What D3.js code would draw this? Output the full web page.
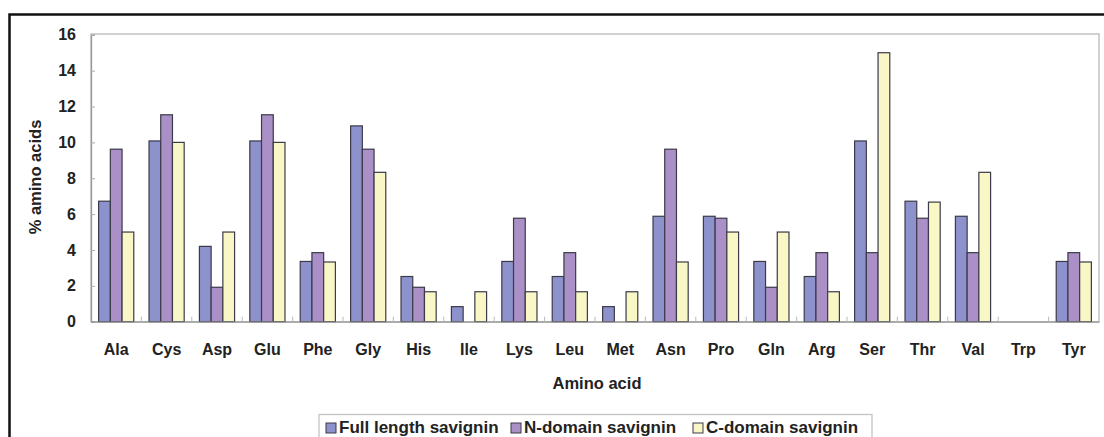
<!DOCTYPE html>
<html>
<head>
<meta charset="utf-8">
<script src="https://cdn.jsdelivr.net/npm/d3@7"></script>
<style>
  html, body { margin: 0; padding: 0; background: #fff; }
  svg { display: block; font-family: "Liberation Sans", Arial, sans-serif; }
</style>
</head>
<body>
<svg id="chart" width="1104" height="437"></svg>
<script>
// Amino acid composition (%) of savignin and its two domains
const aminoAcids = ["Ala","Cys","Asp","Glu","Phe","Gly","His","Ile","Lys","Leu",
                    "Met","Asn","Pro","Gln","Arg","Ser","Thr","Val","Trp","Tyr"];
const fullLength = [6.72,10.08,4.20,10.08,3.36,10.92,2.52,0.84,3.36,2.52,
                    0.84,5.88,5.88,3.36,2.52,10.08,6.72,5.88,0,3.36];
const nDomain    = [9.62,11.54,1.92,11.54,3.85,9.62,1.92,0,5.77,3.85,
                    0,9.62,5.77,1.92,3.85,3.85,5.77,3.85,0,3.85];
const cDomain    = [5.00,10.00,5.00,10.00,3.33,8.33,1.67,1.67,1.67,1.67,
                    1.67,3.33,5.00,5.00,1.67,15.00,6.67,8.33,0,3.33];
const seriesNames = ["Full length savignin","N-domain savignin","C-domain savignin"];
const yTicks = [0,2,4,6,8,10,12,14,16];

const colors = ["#8e92cc","#ab90c8","#f9f7c6"];
const seriesValues = [fullLength, nDomain, cDomain];

const svg = d3.select("#chart");

// outer frame
svg.append("path")
  .attr("d", "M9.5,440 V14.5 H1110")
  .attr("fill", "none").attr("stroke", "#111").attr("stroke-width", 2.5);

const plot = { left: 91, right: 1099, top: 34, bottom: 321.7 };

const x = d3.scaleBand().domain(aminoAcids).range([plot.left, plot.right]).paddingInner(0).paddingOuter(0);
const xs = d3.scaleBand().domain(d3.range(3)).range([0, x.bandwidth()]).paddingInner(0).paddingOuter(0.65);
const y = d3.scaleLinear().domain([0, 16]).range([plot.bottom, plot.top + 0.8]);

// plot area frame
svg.append("rect")
  .attr("x", plot.left).attr("y", plot.top)
  .attr("width", plot.right - plot.left).attr("height", plot.bottom - plot.top)
  .attr("fill", "none").attr("stroke", "#b8b8b8").attr("stroke-width", 1.3);

// bars
const groups = svg.append("g").selectAll("g")
  .data(aminoAcids).join("g")
  .attr("transform", d => `translate(${x(d)},0)`);

groups.selectAll("rect")
  .data((d, i) => seriesValues.map((vals, s) => ({ s, v: vals[i] })))
  .join("rect")
  .filter(d => d.v > 0)
  .attr("x", d => xs(d.s))
  .attr("width", xs.bandwidth())
  .attr("y", d => y(d.v))
  .attr("height", d => y(0) - y(d.v))
  .attr("fill", d => colors[d.s])
  .attr("stroke", "#3a3a48").attr("stroke-width", 1.2);

// y axis
const yAxis = d3.axisLeft(y).tickValues(yTicks).tickSize(-4).tickPadding(15);
const gy = svg.append("g").attr("transform", `translate(${plot.left},0)`).call(yAxis);
gy.select(".domain").attr("stroke", "#999").attr("stroke-width", 1.3);
gy.selectAll(".tick line").attr("stroke", "#aaa");
gy.selectAll(".tick text")
  .attr("font-size", 16).attr("font-weight", "bold").attr("fill", "#222");

// x axis with category boundary ticks
const xAxis = d3.axisBottom(x).tickSize(0).tickPadding(22);
const gx = svg.append("g").attr("transform", `translate(0,${plot.bottom})`).call(xAxis);
gx.select(".domain").attr("stroke", "#999").attr("stroke-width", 1.3);
gx.selectAll(".tick text")
  .attr("font-size", 16).attr("font-weight", "bold").attr("fill", "#222");
gx.selectAll(".boundary")
  .data(aminoAcids.slice(1)).join("line")
  .attr("class", "boundary")
  .attr("x1", d => x(d)).attr("x2", d => x(d))
  .attr("y1", 0).attr("y2", -5)
  .attr("stroke", "#bbb");

// axis titles
svg.append("text")
  .attr("x", (plot.left + plot.right) / 2 + 2).attr("y", 389)
  .attr("text-anchor", "middle")
  .attr("font-size", 16.5).attr("font-weight", "bold").attr("fill", "#222")
  .text("Amino acid");

svg.append("text")
  .attr("transform", `translate(41,177) rotate(-90)`)
  .attr("text-anchor", "middle")
  .attr("font-size", 16.5).attr("font-weight", "bold").attr("fill", "#222")
  .text("% amino acids");

// legend
const legend = svg.append("g");
legend.append("rect")
  .attr("x", 319).attr("y", 414.5).attr("width", 553).attr("height", 40)
  .attr("fill", "#fff").attr("stroke", "#c4c4c4").attr("stroke-width", 1.3);

const legendX = [326, 511, 693];
seriesNames.forEach((name, i) => {
  const item = legend.append("g").attr("transform", `translate(${legendX[i]},0)`);
  item.append("rect")
    .attr("x", 0).attr("y", 423).attr("width", 10).attr("height", 10)
    .attr("fill", colors[i]).attr("stroke", "#3a3a48").attr("stroke-width", 1);
  item.append("text")
    .attr("x", 13).attr("y", 433)
    .attr("font-size", 17).attr("font-weight", "bold").attr("fill", "#222")
    .text(name);
});
</script>
</body>
</html>
